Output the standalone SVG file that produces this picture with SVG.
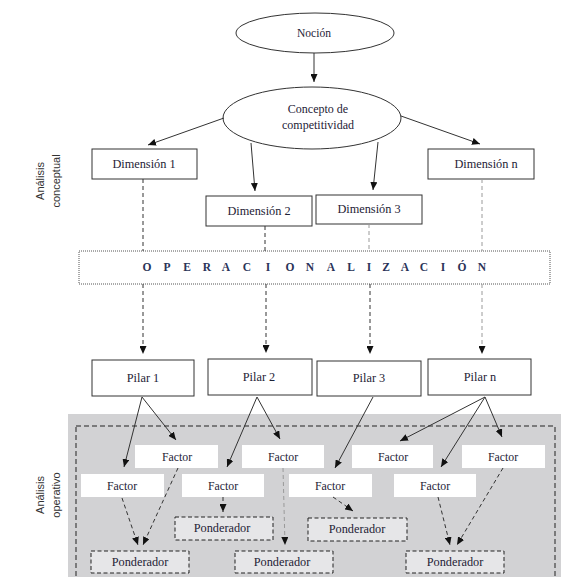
<svg xmlns="http://www.w3.org/2000/svg" width="562" height="577" viewBox="0 0 562 577">
<style>
.n{fill:#fff;stroke:#333;stroke-width:1}
.t{font-size:12.3px;fill:#1e2236;text-anchor:middle}
.f{fill:#fff;stroke:none}
.p{fill:#e6e6e8;stroke:#222;stroke-width:1;stroke-dasharray:4 2.5}
.s{font-family:'Liberation Sans',Arial,sans-serif;font-size:11px;fill:#333;text-anchor:middle}
.c{fill:none;stroke:#333;stroke-width:1}
.d{fill:none;stroke:#333;stroke-width:1;stroke-dasharray:4 3}
.g{fill:none;stroke:#9a9a9a;stroke-width:1;stroke-dasharray:4 3}
.op{font-size:11.5px;font-weight:bold;fill:#2a3358;text-anchor:middle}
</style>
<defs>
<marker id="ah" viewBox="0 0 8 7" markerWidth="8" markerHeight="7" refX="8" refY="3.5" orient="auto" markerUnits="userSpaceOnUse">
<path d="M0,0 L8,3.5 L0,7 z" fill="#111"/>
</marker>
</defs>

<g id="lbl-conceptual">
<text class="s" transform="translate(44,181) rotate(-90)">Análisis</text>
<text class="s" transform="translate(60,181) rotate(-90)">conceptual</text>
</g>
<g id="lbl-operativo">
<text class="s" transform="translate(44,495) rotate(-90)">Análisis</text>
<text class="s" transform="translate(60,495) rotate(-90)">operativo</text>
</g>

<g id="area-operativa">
<rect x="68" y="414" width="493" height="170" fill="#d2d2d4"/>
<rect x="76" y="426" width="479" height="160" fill="none" stroke="#222" stroke-width="1" stroke-dasharray="5 3"/>
</g>

<g font-family="Liberation Serif, Times New Roman, DejaVu Serif, serif">
<g id="nocion">
<ellipse class="n" cx="315" cy="33" rx="79" ry="20"/>
<text class="t" x="314" y="37" style="font-size:11.5px">Noción</text>
</g>
<g id="concepto">
<ellipse class="n" cx="312" cy="118" rx="89" ry="31"/>
<text class="t" x="318" y="113" style="font-size:12px">Concepto de</text>
<text class="t" x="318" y="129" style="font-size:12px">competitividad</text>
</g>

<g id="dim1"><rect class="n" x="92" y="149" width="105" height="30"/><text class="t" x="144" y="168">Dimensión 1</text></g>
<g id="dim2"><rect class="n" x="206" y="196" width="106" height="30"/><text class="t" x="259" y="215">Dimensión 2</text></g>
<g id="dim3"><rect class="n" x="316" y="195" width="106" height="29"/><text class="t" x="369" y="213">Dimensión 3</text></g>
<g id="dimn"><rect class="n" x="428" y="149" width="106" height="30"/><text class="t" x="486" y="168">Dimensión n</text></g>

<g id="operacionalizacion">
<rect x="79" y="251" width="471" height="33" fill="#fff" stroke="#555" stroke-width="1" stroke-dasharray="1 1"/>
<text class="op" y="271" x="147 167 187 207 226 247 268 290 310 320 331 351 369 386 405 424 443 462 482">OPERACION ALIZACIÓN</text>
</g>

<g id="pilar1"><rect class="n" x="92" y="360" width="102" height="36"/><text class="t" x="143" y="382">Pilar 1</text></g>
<g id="pilar2"><rect class="n" x="208" y="359" width="104" height="36"/><text class="t" x="259" y="381">Pilar 2</text></g>
<g id="pilar3"><rect class="n" x="317" y="361" width="104" height="35"/><text class="t" x="369" y="382">Pilar 3</text></g>
<g id="pilarn"><rect class="n" x="428" y="359" width="103" height="36"/><text class="t" x="480" y="381">Pilar n</text></g>

<g id="factor1a"><rect class="f" x="135" y="445" width="83" height="23"/><text class="t" x="177" y="461" style="font-size:11.8px">Factor</text></g>
<g id="factor2a"><rect class="f" x="242" y="445" width="82" height="23"/><text class="t" x="283" y="461" style="font-size:11.8px">Factor</text></g>
<g id="factor3a"><rect class="f" x="352" y="445" width="81" height="23"/><text class="t" x="393" y="461" style="font-size:11.8px">Factor</text></g>
<g id="factor4a"><rect class="f" x="462" y="445" width="83" height="23"/><text class="t" x="503" y="461" style="font-size:11.8px">Factor</text></g>
<g id="factor1b"><rect class="f" x="81" y="474" width="83" height="23"/><text class="t" x="122" y="490" style="font-size:11.8px">Factor</text></g>
<g id="factor2b"><rect class="f" x="182" y="474" width="82" height="23"/><text class="t" x="223" y="490" style="font-size:11.8px">Factor</text></g>
<g id="factor3b"><rect class="f" x="289" y="474" width="83" height="23"/><text class="t" x="330" y="490" style="font-size:11.8px">Factor</text></g>
<g id="factor4b"><rect class="f" x="394" y="474" width="82" height="23"/><text class="t" x="435" y="490" style="font-size:11.8px">Factor</text></g>

<g id="pond2a"><rect class="p" x="175" y="517" width="98" height="23"/><text class="t" x="222" y="532">Ponderador</text></g>
<g id="pond3a"><rect class="p" x="308" y="518" width="99" height="23"/><text class="t" x="357" y="533">Ponderador</text></g>
<g id="pond1b"><rect class="p" x="91" y="551" width="98" height="22"/><text class="t" x="140" y="566">Ponderador</text></g>
<g id="pond2b"><rect class="p" x="235" y="551" width="98" height="22"/><text class="t" x="282" y="566">Ponderador</text></g>
<g id="pond4b"><rect class="p" x="406" y="551" width="98" height="22"/><text class="t" x="455" y="566">Ponderador</text></g>
</g>

<g id="connectors">
<line class="c" x1="314" y1="53" x2="314" y2="82" marker-end="url(#ah)"/>
<line class="c" x1="224" y1="118" x2="148" y2="145" marker-end="url(#ah)"/>
<line class="c" x1="251" y1="143" x2="255" y2="191" marker-end="url(#ah)"/>
<line class="c" x1="378" y1="142" x2="373" y2="190" marker-end="url(#ah)"/>
<line class="c" x1="401" y1="116" x2="480" y2="144" marker-end="url(#ah)"/>

<line class="d" x1="143" y1="179" x2="143" y2="251"/>
<line class="d" x1="265" y1="226" x2="265" y2="251"/>
<line class="g" x1="369" y1="224" x2="369" y2="251"/>
<line class="g" x1="482" y1="179" x2="482" y2="251"/>

<line class="d" x1="143" y1="284" x2="143" y2="354" marker-end="url(#ah)"/>
<line class="d" x1="266" y1="284" x2="266" y2="353" marker-end="url(#ah)"/>
<line class="d" x1="370" y1="284" x2="370" y2="354" stroke="#555" marker-end="url(#ah)"/>
<line class="g" x1="482" y1="284" x2="482" y2="354" marker-end="url(#ah)"/>

<line class="c" x1="142" y1="397" x2="124" y2="467" marker-end="url(#ah)"/>
<line class="c" x1="142" y1="397" x2="176" y2="440" marker-end="url(#ah)"/>
<line class="c" x1="257" y1="397" x2="227" y2="467" marker-end="url(#ah)"/>
<line class="c" x1="257" y1="397" x2="280" y2="439" marker-end="url(#ah)"/>
<line class="c" x1="373" y1="397" x2="335" y2="468" marker-end="url(#ah)"/>
<line class="c" x1="485" y1="397" x2="400" y2="441" marker-end="url(#ah)"/>
<line class="c" x1="485" y1="397" x2="441" y2="467" marker-end="url(#ah)"/>
<line class="c" x1="485" y1="397" x2="502" y2="437" marker-end="url(#ah)"/>

<line class="d" x1="122" y1="498" x2="138" y2="545" marker-end="url(#ah)"/>
<line class="d" x1="178" y1="468" x2="143" y2="545" marker-end="url(#ah)"/>
<line class="d" x1="223" y1="497" x2="223" y2="512" marker-end="url(#ah)"/>
<line class="g" x1="283" y1="468" x2="285" y2="545" stroke="#666" marker-end="url(#ah)"/>
<line class="d" x1="333" y1="497" x2="353" y2="511" marker-end="url(#ah)"/>
<line class="d" x1="438" y1="497" x2="450" y2="545" marker-end="url(#ah)"/>
<line class="d" x1="503" y1="468" x2="457" y2="545" marker-end="url(#ah)"/>
</g>
</svg>
